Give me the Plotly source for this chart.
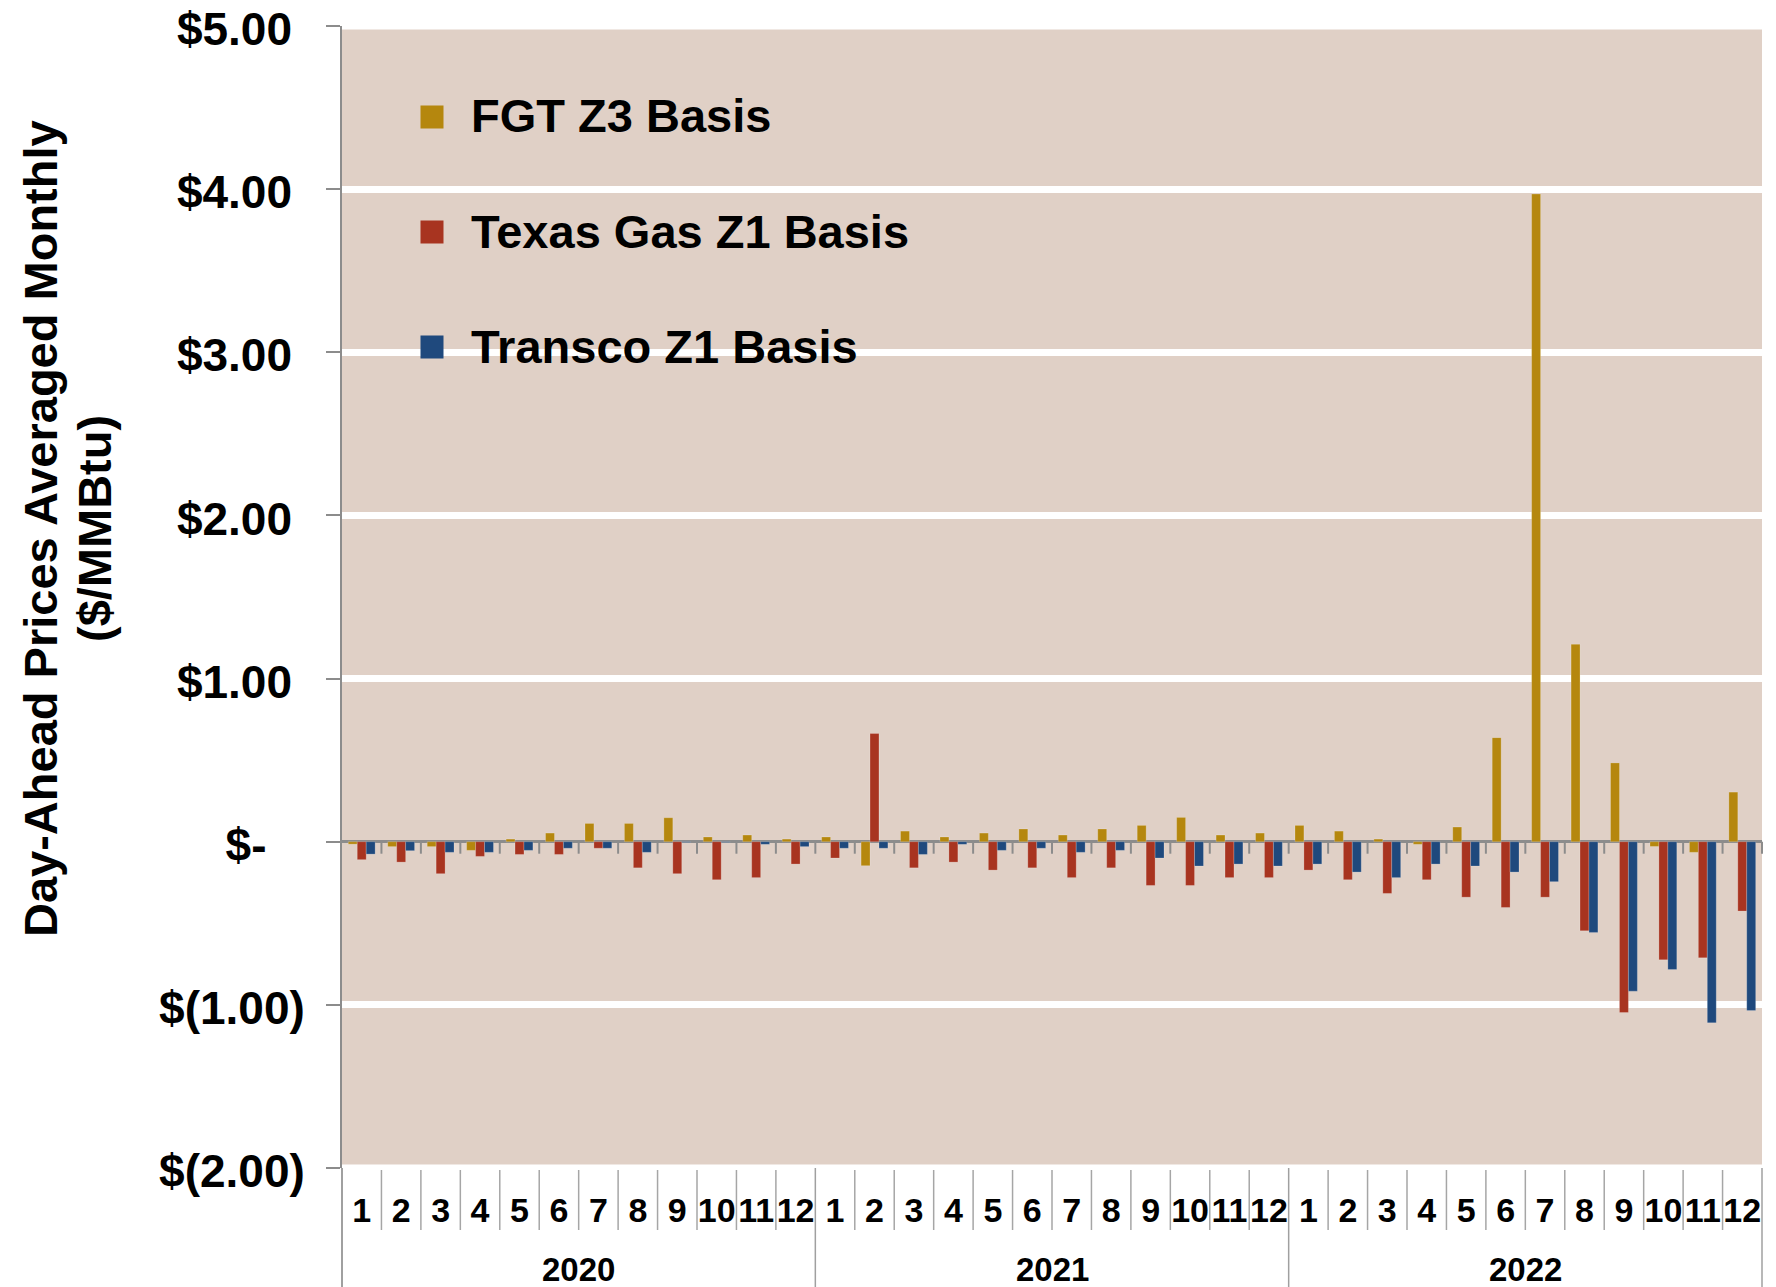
import plotly.graph_objects as go

# ---------------- data ----------------
year_labels = ["2020", "2021", "2022"]
month_labels = ["1", "2", "3", "4", "5", "6", "7", "8", "9", "10", "11", "12"]

fgt_2020 = [-0.015, -0.03, -0.03, -0.053, 0.016, 0.053, 0.112, 0.112, 0.147, 0.029, 0.041, 0.016]
fgt_2021 = [0.029, -0.147, 0.065, 0.029, 0.053, 0.078, 0.041, 0.078, 0.10, 0.149, 0.041, 0.053]
fgt_2022 = [0.10, 0.065, 0.016, -0.016, 0.09, 0.638, 3.97, 1.21, 0.483, -0.029, -0.065, 0.304]

texas_2020 = [-0.11, -0.125, -0.196, -0.09, -0.078, -0.078, -0.04, -0.16, -0.196, -0.233, -0.22, -0.137]
texas_2021 = [-0.10, 0.663, -0.16, -0.125, -0.174, -0.16, -0.22, -0.16, -0.268, -0.268, -0.22, -0.22]
texas_2022 = [-0.174, -0.233, -0.317, -0.233, -0.34, -0.403, -0.34, -0.546, -1.047, -0.724, -0.712, -0.425]

transco_2020 = [-0.076, -0.055, -0.065, -0.065, -0.053, -0.04, -0.04, -0.065, -0.004, -0.004, -0.016, -0.03]
transco_2021 = [-0.04, -0.04, -0.078, -0.016, -0.053, -0.04, -0.065, -0.053, -0.10, -0.149, -0.137, -0.149]
transco_2022 = [-0.137, -0.186, -0.22, -0.137, -0.149, -0.186, -0.245, -0.556, -0.916, -0.783, -1.11, -1.035]

series_names = ["FGT Z3 Basis", "Texas Gas Z1 Basis", "Transco Z1 Basis"]
series_colors = ["#B5870E", "#A83420", "#1F497D"]

y_tickvals = [-2, -1, 0, 1, 2, 3, 4, 5]
NB = "\u00a0"
y_ticktext = ["$(2.00)", "$(1.00)", "$-" + NB * 3, "$1.00" + NB, "$2.00" + NB,
              "$3.00" + NB, "$4.00" + NB, "$5.00" + NB]
y_title_1 = "Day-Ahead Prices Averaged Monthly"
y_title_2 = "($/MMBtu)"

# ---------------- layout geometry (page pixels) ----------------
FIG_W, FIG_H = 1776, 1287
OFF = 8                      # body margin of the html page
PL, PR = 342, 1762           # plot left / right on the page
PT, PB = 26, 1168            # plot top / bottom on the page
L, R, T, B = PL - OFF, PR - OFF, PT - OFF, PB - OFF
W = R - L
H = B - T
Y_MIN, Y_MAX = -2, 5


def px_x(px):
    return (px - OFF - L) / W


def px_y(py):
    return (B - (py - OFF)) / H


FONT = "Liberation Sans, Arial, sans-serif"
GRAY = "#8c8c8c"
DIV_GRAY = "#a0a0a0"

x_keys = [y + "-" + m for y in year_labels for m in month_labels]
x_month_text = month_labels * len(year_labels)

series_values = [
    fgt_2020 + fgt_2021 + fgt_2022,
    texas_2020 + texas_2021 + texas_2022,
    transco_2020 + transco_2021 + transco_2022,
]

fig = go.Figure()
for name, color, vals in zip(series_names, series_colors, series_values):
    fig.add_trace(go.Bar(
        x=x_keys, y=vals, name=name,
        marker=dict(color=color, line=dict(color="rgba(255,255,255,0.25)", width=0.8)),
        showlegend=False,
    ))

n_cat = len(x_keys)
n_m = len(month_labels)

fig.update_layout(
    template="none",
    width=FIG_W, height=FIG_H,
    margin=dict(l=L, r=FIG_W - R, t=T, b=FIG_H - B, pad=0, autoexpand=False),
    paper_bgcolor="white",
    plot_bgcolor="#E0D0C6",
    barmode="group",
    bargap=0.32,
    bargroupgap=0.0,
    showlegend=False,
    font=dict(family=FONT, color="black"),
    xaxis=dict(
        type="category",
        automargin=False,
        showline=False, showgrid=False, zeroline=False,
        tickmode="array", tickvals=x_keys, ticktext=x_month_text, tickangle=0,
        ticks="outside", ticklen=12, tickcolor="rgba(0,0,0,0)",
        tickfont=dict(family=FONT, size=34, weight="bold", color="black"),
    ),
    yaxis=dict(
        automargin=False,
        range=[Y_MIN, Y_MAX], autorange=False,
        tickmode="array", tickvals=y_tickvals, ticktext=y_ticktext,
        tickfont=dict(family=FONT, size=46, weight="bold", color="black"),
        ticklabeloverflow="allow",
        ticklabelshift=3,
        ticks="outside", ticklen=14, tickwidth=2, tickcolor=GRAY,
        ticklabelstandoff=12,
        showline=True, linecolor=GRAY, linewidth=2,
        showgrid=True, gridcolor="white", gridwidth=7,
        zeroline=True, zerolinecolor=GRAY, zerolinewidth=2.5,
    ),
)

# top/bottom white gridlines (Plotly clips grid lines at the range ends)
for yv in (Y_MAX, Y_MIN):
    fig.add_shape(type="line", xref="paper", yref="y", x0=0, x1=1, y0=yv, y1=yv,
                  line=dict(color="white", width=7), layer="below")

# category-boundary marks
for i in range(0, n_cat + 1):
    xb = i / n_cat
    if i > 0:
        # short ticks under the zero line
        fig.add_shape(type="line", xref="paper", yref="y", x0=xb, x1=xb,
                      ysizemode="pixel", yanchor=0, y0=0, y1=-12,
                      line=dict(color=GRAY, width=2), layer="above")
    if i % n_m == 0:
        # year dividers through both label rows
        fig.add_shape(type="line", xref="paper", yref="paper", x0=xb, x1=xb,
                      y0=px_y(PB), y1=px_y(1300),
                      line=dict(color=DIV_GRAY, width=2 if i == 0 else 1.5), layer="above")
    else:
        # month dividers through the month row
        fig.add_shape(type="line", xref="paper", yref="paper", x0=xb, x1=xb,
                      y0=px_y(PB + 2), y1=px_y(1230),
                      line=dict(color="#a6a6a6", width=1.5), layer="above")

# year labels (second row of the category axis)
for k, yl in enumerate(year_labels):
    fig.add_annotation(text=yl, xref="paper", yref="paper",
                       x=(k * n_m + n_m / 2) / n_cat, y=px_y(1269),
                       xanchor="center", yanchor="middle", showarrow=False,
                       font=dict(family=FONT, size=33, weight="bold", color="black"))

# y-axis title (two lines)
for txt, cx in ((y_title_1, 40), (y_title_2, 94)):
    fig.add_annotation(text=txt, textangle=-90, xref="paper", yref="paper",
                       x=px_x(cx), y=px_y(529), xanchor="center", yanchor="middle",
                       showarrow=False,
                       font=dict(family=FONT, size=47, weight="bold", color="black"))

# legend (inside plot, top-left)
legend_rows_px = [117, 232, 347]
for name, color, ry in zip(series_names, series_colors, legend_rows_px):
    fig.add_shape(type="rect", xref="paper", yref="paper",
                  x0=px_x(420.5), x1=px_x(443.5), y0=px_y(ry + 11.5), y1=px_y(ry - 11.5),
                  fillcolor=color, line=dict(width=0))
    fig.add_annotation(text=name, xref="paper", yref="paper",
                       x=px_x(469), y=px_y(ry - 1), xanchor="left", yanchor="middle",
                       showarrow=False,
                       font=dict(family=FONT, size=47, weight="bold", color="black"))

fig.write_html("out.html")
